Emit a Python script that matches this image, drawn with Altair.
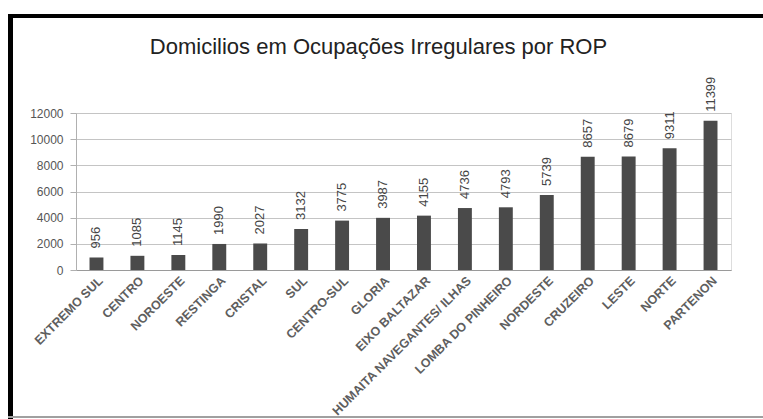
import altair as alt
import pandas as pd

# ---- data ----
categories = [
    "EXTREMO SUL", "CENTRO", "NOROESTE", "RESTINGA", "CRISTAL", "SUL",
    "CENTRO-SUL", "GLORIA", "EIXO BALTAZAR", "HUMAITA NAVEGANTES/ ILHAS",
    "LOMBA DO PINHEIRO", "NORDESTE", "CRUZEIRO", "LESTE", "NORTE", "PARTENON",
]
values = [956, 1085, 1145, 1990, 2027, 3132, 3775, 3987, 4155, 4736, 4793,
          5739, 8657, 8679, 9311, 11399]
y_ticks = [0, 2000, 4000, 6000, 8000, 10000, 12000]
title_text = "Domicilios em Ocupações Irregulares por ROP"

df = pd.DataFrame({"rop": categories, "dom": values})
frame_df = pd.DataFrame({"k": [0]})

W, H = 655, 157

x_enc = alt.X(
    "rop:N", sort=categories, title=None,
    scale=alt.Scale(paddingInner=0.66, paddingOuter=0.33),
    axis=alt.Axis(
        labelAngle=-45, labelFont="Liberation Sans", labelFontWeight="bold",
        labelFontSize=12.5, labelColor="#5e5e5e", ticks=False,
        domainColor="#9a9a9a", labelPadding=4, labelLimit=0, grid=False,
        labelOverlap=False,
    ),
)
y_enc = alt.Y(
    "dom:Q", title=None,
    scale=alt.Scale(domain=[0, 12000], nice=False),
    axis=alt.Axis(
        values=y_ticks, format="d", labelFontSize=12, labelColor="#555",
        labelFont="Liberation Sans", tickSize=6, tickColor="#b0b0b0",
        domainColor="#b0b0b0", gridColor="#c4c4c4", labelPadding=7,
        labelOverlap=False,
    ),
)

bars = alt.Chart(df).mark_bar(color="#4a4a4a").encode(x=x_enc, y=y_enc)

labels = alt.Chart(df).mark_text(
    angle=270, align="left", baseline="middle", dx=9,
    fontSize=13, font="Liberation Sans", color="#444",
).encode(
    x=x_enc,
    y=y_enc,
    text=alt.Text("dom:Q", format="d"),
)

left_rule = alt.Chart(frame_df).mark_rule(color="black", strokeWidth=5).encode(
    x=alt.value(-65.5), y=alt.value(-99), y2=alt.value(306)
)
top_rule = alt.Chart(frame_df).mark_rule(color="black", strokeWidth=4).encode(
    x=alt.value(-68), x2=alt.value(687), y=alt.value(-97)
)
bottom_rule = alt.Chart(frame_df).mark_rule(color="#a0a0a0", strokeWidth=2).encode(
    x=alt.value(-68), x2=alt.value(687), y=alt.value(304)
)

chart = alt.layer(bars, labels, left_rule, top_rule, bottom_rule).properties(
    width=W, height=H,
    padding={"left": 76, "top": 113, "right": 32, "bottom": 149},
    autosize=alt.AutoSizeParams(type="none"),
    title=alt.Title(
        title_text, font="Liberation Sans", fontSize=22,
        fontWeight="normal", color="#222", anchor="middle", frame="group",
        offset=0, dx=-25, dy=47,
    ),
).configure_view(stroke=None).configure(font="Liberation Sans", background="white")

chart.save("out.html", embed_options={"renderer": "svg", "actions": False})
